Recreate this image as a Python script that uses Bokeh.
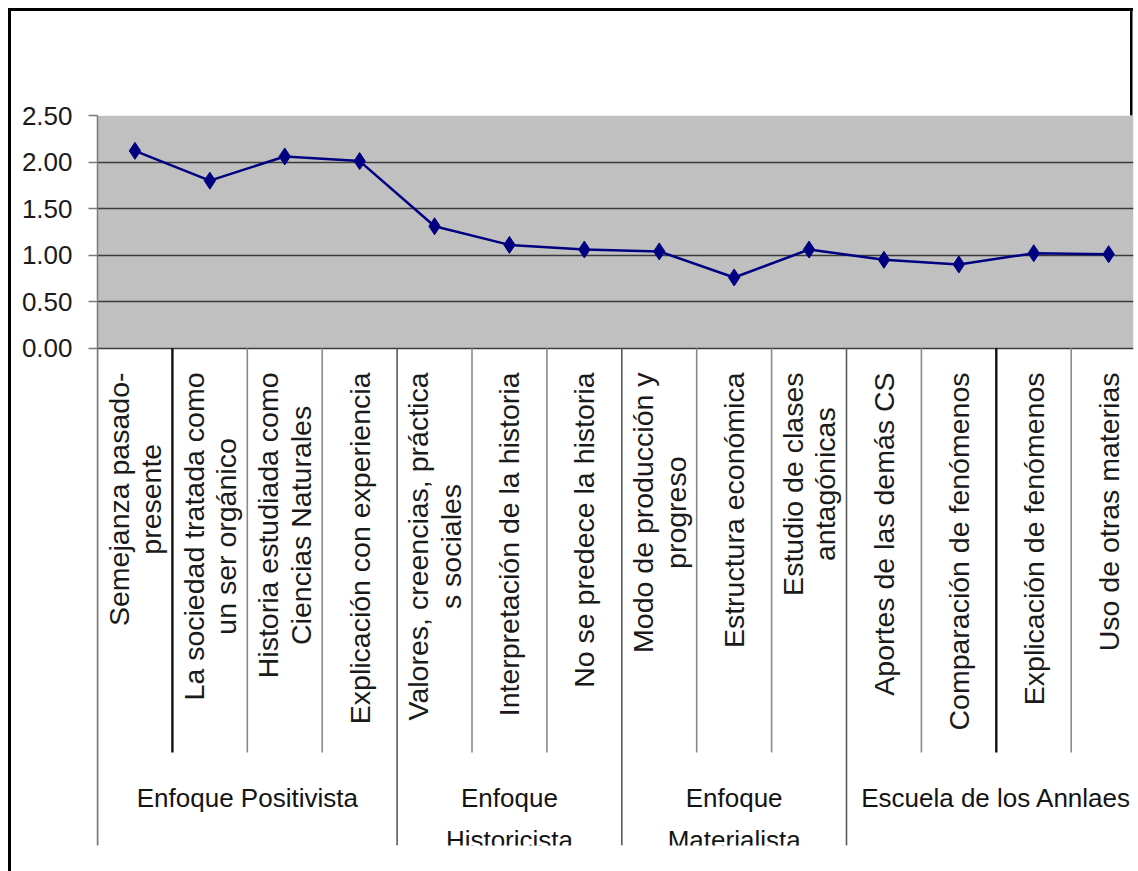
import math

from bokeh.core.properties import value
from bokeh.embed import file_html
from bokeh.models import BoxAnnotation, FixedTicker, Grid, Range1d
from bokeh.plotting import figure
from bokeh.resources import INLINE

# ---- data -----------------------------------------------------------------
categories = [
    "Semejanza pasado-\npresente",
    "La sociedad tratada como\nun ser orgánico",
    "Historia estudiada como\nCiencias Naturales",
    "Explicación con experiencia",
    "Valores, creencias, práctica\ns sociales",
    "Interpretación de la historia",
    "No se predece la historia",
    "Modo de producción y\nprogreso",
    "Estructura económica",
    "Estudio de clases\nantagónicas",
    "Aportes de las demás CS",
    "Comparación de fenómenos",
    "Explicación de fenómenos",
    "Uso de otras materias",
]
scores = [2.12, 1.80, 2.06, 2.01, 1.31, 1.11, 1.06, 1.04, 0.76, 1.06, 0.95, 0.90, 1.02, 1.01]

groups = ["Enfoque Positivista", "Enfoque\nHistoricista", "Enfoque\nMaterialista", "Escuela de los Annlaes"]
group_sizes = [4, 3, 3, 4]

y_ticks = [0.0, 0.5, 1.0, 1.5, 2.0, 2.5]
y_tick_labels = ["0.00", "0.50", "1.00", "1.50", "2.00", "2.50"]

# ---- layout constants (pixels) --------------------------------------------
W, H = 1138, 871
FRAME_L, FRAME_R, FRAME_T, FRAME_B = 97, 1133, 115, 845
STEP = 74.9          # width of one category column
ZERO_Y = 347.7       # pixel row of the value axis zero
CAT_LINE_END = 752   # bottom of the category separators
CAT_LABEL_TOP = 372  # where the rotated labels end
GROUP_LABEL_TOP = 782

FONT = "Liberation Sans"

x_end = (FRAME_R - FRAME_L) / STEP
y_unit = (ZERO_Y - FRAME_T) / (y_ticks[-1] - y_ticks[0])
y_start = y_ticks[0] - (FRAME_B - ZERO_Y) / y_unit

# page border drawn as CSS backgrounds behind the transparent canvas margins
border_css = {
    "background-color": "white",
    "background-image": "linear-gradient(#000,#000), linear-gradient(#000,#000), linear-gradient(#000,#000)",
    "background-position": "7.5px 7.5px, 7.5px 7.5px, 1129.5px 7.5px",
    "background-size": "3px 900px, 1125px 3px, 2.5px 108px",
    "background-repeat": "no-repeat",
}

p = figure(
    width=W, height=H,
    x_range=Range1d(0, x_end),
    y_range=Range1d(y_start, y_ticks[-1]),
    output_backend="svg",
    toolbar_location=None,
    x_axis_location=None,
    min_border_left=FRAME_L,
    min_border_right=W - FRAME_R,
    min_border_top=FRAME_T,
    min_border_bottom=H - FRAME_B,
    styles=border_css,
)
p.extra_y_ranges = {"px": Range1d(start=FRAME_B, end=FRAME_T)}
p.background_fill_color = "white"
p.border_fill_color = None
p.outline_line_color = None

# gray plotting area between the first and last value tick
p.add_layout(BoxAnnotation(bottom=y_ticks[0], top=y_ticks[-1], fill_color="#c0c0c0",
                           fill_alpha=1.0, line_color=None, level="image"))

p.xgrid.visible = False
p.ygrid.ticker = FixedTicker(ticks=y_ticks[:-1])
p.ygrid.grid_line_color = "#3a3a3a"
p.ygrid.grid_line_width = 1.6
p.add_layout(Grid(dimension=1, ticker=FixedTicker(ticks=[y_ticks[-1]]),
                  grid_line_color="#8e8e8e", grid_line_width=1.6))

ax = p.yaxis[0]
ax.ticker = FixedTicker(ticks=y_ticks)
ax.major_label_overrides = {t: lab for t, lab in zip(y_ticks, y_tick_labels)}
ax.axis_line_color = "#7a7a7a"
ax.axis_line_width = 1.5
ax.major_tick_line_color = "#7a7a7a"
ax.major_tick_line_width = 1.5
ax.major_tick_out = 9
ax.major_tick_in = 0
ax.minor_tick_line_color = None
ax.major_label_standoff = 16
ax.major_label_text_font = FONT
ax.major_label_text_font_size = "26px"
ax.major_label_text_color = "#1a1a1a"

# ---- series ---------------------------------------------------------------
xs = [i + 0.5 for i in range(len(categories))]
p.line(xs, scores, line_color="#000080", line_width=2.5)
p.scatter(xs, scores, marker="diamond", size=17, fill_color="#000080", line_color="#000080")

# ---- category table below the chart ---------------------------------------
group_edges = [0]
for n in group_sizes:
    group_edges.append(group_edges[-1] + n)

bx, by1, bcol, bw = [], [], [], []
for k in range(len(categories)):
    if k in group_edges:
        bx.append(k); by1.append(FRAME_B); bcol.append("#5a5a5a" if k else "#8a8a8a"); bw.append(1.6)
    else:
        heavy = k in (1, 12)
        bx.append(k); by1.append(CAT_LINE_END)
        bcol.append("#111111" if heavy else "#8a8a8a"); bw.append(2.4 if heavy else 1.6)
p.segment(x0=bx, y0=[ZERO_Y] * len(bx), x1=bx, y1=by1, line_color=bcol, line_width=bw,
          y_range_name="px")

p.text(x=xs, y=[CAT_LABEL_TOP] * len(xs), text=categories, angle=math.pi / 2,
       anchor="center_right", text_align="center",
       text_font=value(FONT), text_font_size="28.5px", text_color="#1a1a1a",
       text_line_height=1.02, y_range_name="px")

group_centers = [(group_edges[i] + group_edges[i + 1]) / 2 for i in range(len(groups))]
group_centers[-1] = (group_edges[-2] + len(categories)) / 2
p.text(x=group_centers, y=[GROUP_LABEL_TOP] * len(groups), text=groups,
       anchor="top_center", text_align="center",
       text_font=value(FONT), text_font_size="26px", text_color="#141414",
       text_line_height=1.42, y_range_name="px")

open("out.html", "w").write(file_html(p, INLINE))
